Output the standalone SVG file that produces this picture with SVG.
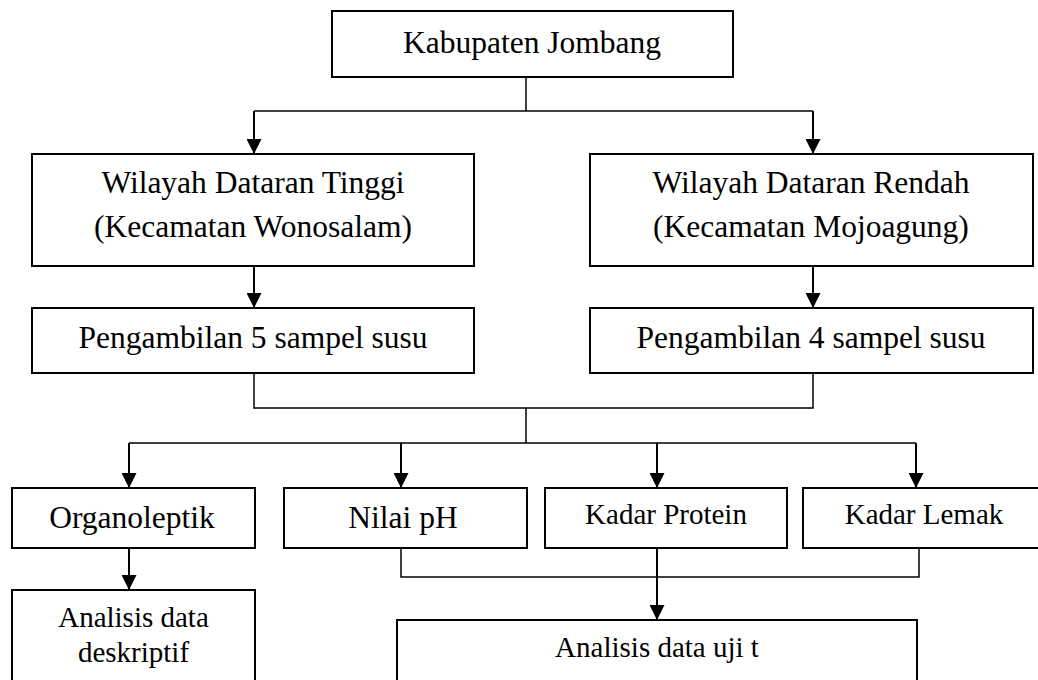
<svg xmlns="http://www.w3.org/2000/svg" width="1038" height="680" viewBox="0 0 1038 680">
<style>
.box{fill:#fff;stroke:#000;stroke-width:2}
.t{font-family:"Liberation Serif","Times New Roman",serif;font-size:31.5px;fill:#000;text-anchor:middle}
.s{font-size:29px}
.ln{fill:none;stroke:#000;stroke-width:1.5}
.ar{fill:none;stroke:#000;stroke-width:2;marker-end:url(#ah)}
</style>
<defs>
<marker id="ah" markerUnits="userSpaceOnUse" markerWidth="15" markerHeight="15" refX="15" refY="7.5" orient="auto">
<path d="M0,0 L15,7.5 L0,15 z" fill="#000"/>
</marker>
</defs>
<rect width="1038" height="680" fill="#fff"/>
<g id="connectors">
<path class="ln" d="M526,77 V111 M254,111 H813"/>
<line class="ar" x1="254" y1="111" x2="254" y2="154"/>
<line class="ar" x1="813" y1="111" x2="813" y2="154"/>
<line class="ar" x1="254" y1="266" x2="254" y2="308"/>
<line class="ar" x1="813" y1="266" x2="813" y2="308"/>
<path class="ln" d="M254,373 V408 H813 V373 M526,408 V443 M129,443 H916"/>
<line class="ar" x1="129" y1="443" x2="129" y2="488"/>
<line class="ar" x1="401" y1="443" x2="401" y2="488"/>
<line class="ar" x1="657" y1="443" x2="657" y2="488"/>
<line class="ar" x1="916" y1="443" x2="916" y2="488"/>
<line class="ar" x1="129" y1="548" x2="129" y2="590"/>
<path class="ln" d="M401,548 V577 H919 V548"/>
<line class="ar" x1="657" y1="548" x2="657" y2="620"/>
</g>
<g id="kabupaten">
<rect class="box" x="332" y="11" width="401" height="66"/>
<text class="t" x="532" y="53">Kabupaten Jombang</text>
</g>
<g id="tinggi">
<rect class="box" x="32" y="154" width="442" height="112"/>
<text class="t" x="253" y="193">Wilayah Dataran Tinggi</text>
<text class="t" x="253" y="237">(Kecamatan Wonosalam)</text>
</g>
<g id="rendah">
<rect class="box" x="590" y="154" width="443" height="112"/>
<text class="t" x="811" y="193">Wilayah Dataran Rendah</text>
<text class="t" x="811" y="237">(Kecamatan Mojoagung)</text>
</g>
<g id="sampel5">
<rect class="box" x="32" y="308" width="442" height="65"/>
<text class="t" x="253" y="348">Pengambilan 5 sampel susu</text>
</g>
<g id="sampel4">
<rect class="box" x="590" y="308" width="443" height="65"/>
<text class="t" x="811" y="348">Pengambilan 4 sampel susu</text>
</g>
<g id="organoleptik">
<rect class="box" x="12" y="488" width="243" height="60"/>
<text class="t" x="132" y="528">Organoleptik</text>
</g>
<g id="ph">
<rect class="box" x="284" y="488" width="243" height="60"/>
<text class="t" x="403" y="528">Nilai pH</text>
</g>
<g id="protein">
<rect class="box" x="545" y="488" width="242" height="60"/>
<text class="t s" x="666" y="524">Kadar Protein</text>
</g>
<g id="lemak">
<rect class="box" x="803" y="488" width="245" height="60"/>
<text class="t s" x="924" y="524">Kadar Lemak</text>
</g>
<g id="deskriptif">
<rect class="box" x="12" y="590" width="243" height="100"/>
<text class="t s" x="133.5" y="627">Analisis data</text>
<text class="t s" x="133.5" y="662">deskriptif</text>
</g>
<g id="ujit">
<rect class="box" x="397" y="620" width="520" height="70"/>
<text class="t s" x="657" y="657">Analisis data uji t</text>
</g>
</svg>
